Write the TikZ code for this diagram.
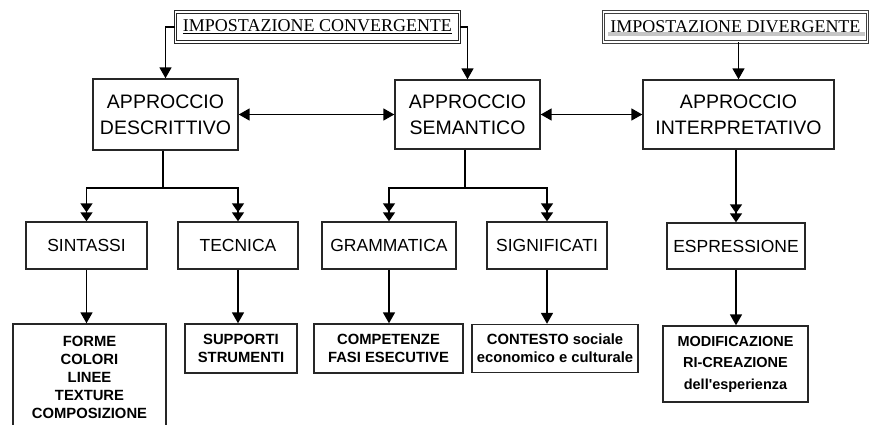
\documentclass[tikz,border=0pt]{standalone}
\usepackage{fontspec}
\setmainfont{Liberation Serif}
\newfontfamily\arialf{Liberation Sans}
\usetikzlibrary{arrows.meta}
\begin{document}
\begin{tikzpicture}[x=1pt,y=-1pt,
  box/.style={draw=black!85, line width=1.4pt, inner sep=0pt, align=center, text=black},
  topbox/.style={box, double, double distance=1.6pt, line width=0.8pt, font=\fontsize{18}{20}\selectfont},
  bigbox/.style={box, font=\arialf\fontsize{19.5}{26}\selectfont},
  midbox/.style={box, font=\arialf\fontsize{17.5}{20}\selectfont},
  lowbox/.style={box, font=\arialf\bfseries\fontsize{14.8}{18}\selectfont},
  conn/.style={line width=1.7pt, draw=black},
  arr/.style={conn, -{Triangle[width=12pt,length=11pt]}},
  darr/.style={conn, {Triangle[width=12pt,length=11pt]}-{Triangle[width=12pt,length=11pt]}},
  dblarr/.style={conn, -{Triangle[width=12pt,length=9pt]Triangle[width=12pt,length=9pt]}}
]
\useasboundingbox (0,0) rectangle (870,424);
\clip (0,0) rectangle (870,424);

% grey band under divergent title
\fill[gray!45] (608,31.5) rectangle (865,35.5);

\node[topbox, minimum width=284pt, minimum height=30pt] (conv) at (317.5,27) {\underline{IMPOSTAZIONE CONVERGENTE}};
\node[topbox, draw=black!75, minimum width=264pt, minimum height=30pt] (div) at (735.5,27) {IMPOSTAZIONE DIVERGENTE};

\node[bigbox, minimum width=145pt, minimum height=71pt] (desc) at (165.5,114.5) {APPROCCIO\\DESCRITTIVO};
\node[bigbox, minimum width=145pt, minimum height=69pt] (sem) at (467.5,114.5) {APPROCCIO\\SEMANTICO};
\node[bigbox, minimum width=191pt, minimum height=69pt] (int) at (738.5,114.5) {APPROCCIO\\INTERPRETATIVO};

\node[midbox, minimum width=121pt, minimum height=47pt] (sin) at (86.5,245.5) {SINTASSI};
\node[midbox, minimum width=120pt, minimum height=47pt] (tec) at (238,245.5) {TECNICA};
\node[midbox, minimum width=134pt, minimum height=47pt] (gram) at (389,245.5) {GRAMMATICA};
\node[midbox, minimum width=120pt, minimum height=47pt] (sig) at (547,245.5) {SIGNIFICATI};
\node[midbox, minimum width=138pt, minimum height=46pt] (esp) at (736,246) {ESPRESSIONE};

\node[lowbox, minimum width=153pt, minimum height=106pt] (forme) at (89.5,377) {FORME\\COLORI\\LINEE\\TEXTURE\\COMPOSIZIONE};
\node[lowbox, minimum width=112pt, minimum height=49pt] (sup) at (241,348.5) {SUPPORTI\\STRUMENTI};
\node[lowbox, minimum width=149pt, minimum height=49pt] (comp) at (388.5,348.5) {COMPETENZE\\FASI ESECUTIVE};
\node[lowbox, minimum width=166pt, minimum height=48pt] (cont) at (555,348.5) {CONTESTO sociale\\economico e culturale};
\node[lowbox, minimum width=145pt, minimum height=76pt, font=\arialf\bfseries\fontsize{14.5}{21.5}\selectfont] (mod) at (735.5,364) {MODIFICAZIONE\\RI-CREAZIONE\\dell'esperienza};

% top connectors
\draw[arr] (conv.west) -| (desc.north);
\draw[arr] (conv.east) -| (sem.north);
\draw[arr] (int.north |- div.south) -- (int.north);

% horizontal double arrows
\draw[darr] (desc.east) -- (sem.west);
\draw[darr] (sem.east) -- (int.west);

% branches
\coordinate (dj) at (163,188);
\coordinate (sj) at (465,188);
\draw[conn] (dj |- desc.south) -- (dj);
\draw[dblarr] (dj) -| (sin.north);
\draw[dblarr] (dj) -| (tec.north);
\draw[conn] (sj |- sem.south) -- (sj);
\draw[dblarr] (sj) -| (gram.north);
\draw[dblarr] (sj) -| (sig.north);
\draw[dblarr] (esp.north |- int.south) -- (esp.north);

% lower arrows
\draw[arr] (sin.south) -- (sin.south |- forme.north);
\draw[arr] (tec.south) -- (tec.south |- sup.north);
\draw[arr] (gram.south) -- (gram.south |- comp.north);
\draw[arr] (sig.south) -- (sig.south |- cont.north);
\draw[arr] (esp.south) -- (esp.south |- mod.north);
\end{tikzpicture}
\end{document}
